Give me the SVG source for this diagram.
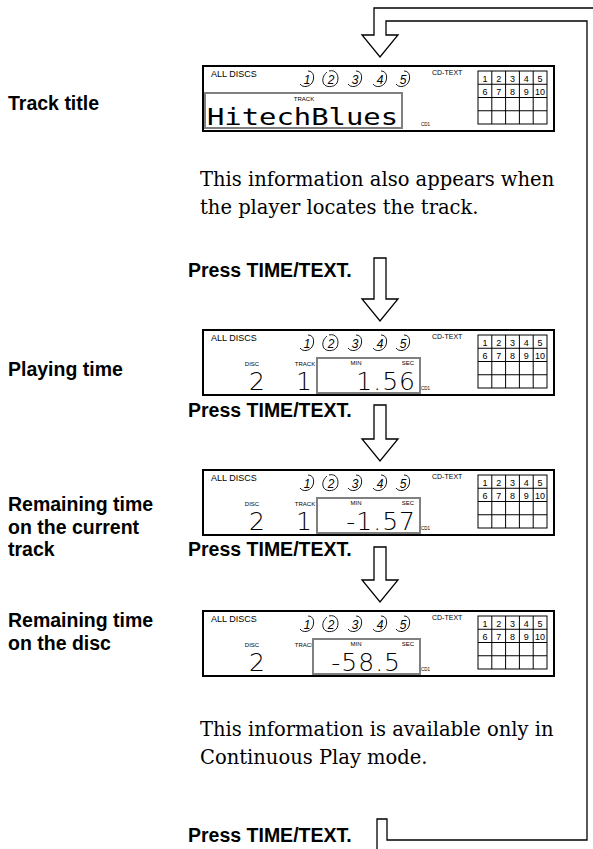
<svg xmlns="http://www.w3.org/2000/svg" width="593" height="849" viewBox="0 0 593 849">
<style>
.bg{fill:#fff}
.disp{fill:#fff;stroke:#000;stroke-width:2}
.gbox{fill:#fff;stroke:#808080;stroke-width:2}
.grid{fill:none;stroke:#000;stroke-width:1}
.sm{font-family:"Liberation Sans",Arial,sans-serif;fill:#000}
.lbl{font-family:"Liberation Sans",Arial,sans-serif;font-size:6px;fill:#000;text-anchor:middle}
.gn{font-family:"Liberation Sans",Arial,sans-serif;font-size:9px;fill:#000;text-anchor:middle}
.dn{font-family:"Liberation Sans",Arial,sans-serif;font-size:12px;font-style:italic;fill:#000;text-anchor:middle}
.arc{fill:none;stroke:#000;stroke-width:0.9}
.big{font-family:"DejaVu Sans","DejaVu Sans Mono",sans-serif;font-weight:200;font-size:25px;fill:#000}
.mono{font-family:"DejaVu Sans Mono",monospace;font-size:23px;fill:#000}
.head{font-family:"Liberation Sans",Arial,sans-serif;font-weight:bold;font-size:19.5px;fill:#000}
.para{font-family:"DejaVu Serif",serif;font-size:19.5px;fill:#000}
.arrow{fill:none;stroke:#000;stroke-width:1.3}
</style>
<defs>
<g id="discs">
<text class="sm" x="211" y="11" font-size="9">ALL DISCS</text>
<text class="sm" x="432" y="9" font-size="7">CD-TEXT</text>
<g transform="translate(307,13)"><text class="dn" x="0" y="4.5">1</text><path class="arc" d="M1,-8 C7,-8 8,-1 5,4 C2,8 -4,9 -7,5"/></g>
<g transform="translate(331,13)"><text class="dn" x="0" y="4.5">2</text><path class="arc" d="M-2,-8 C5,-10 9,-3 6,4 C3,9 -7,9 -8,3 C-9,-2 -6,-5 -4,-7"/></g>
<g transform="translate(355,13)"><text class="dn" x="0" y="4.5">3</text><path class="arc" d="M1,-8 C7,-8 8,-1 5,4 C2,8 -4,9 -7,5"/></g>
<g transform="translate(380,13)"><text class="dn" x="0" y="4.5">4</text><path class="arc" d="M1,-8 C7,-8 8,-1 5,4 C2,8 -4,9 -7,5"/></g>
<g transform="translate(403,13)"><text class="dn" x="0" y="4.5">5</text><path class="arc" d="M1,-8 C7,-8 8,-1 5,4 C2,8 -4,9 -7,5"/></g>
<rect class="grid" x="478" y="5" width="69" height="53"/>
<path class="grid" d="M491.8,5V58M505.6,5V58M519.4,5V58M533.2,5V58M478,18.25H547M478,31.5H547M478,44.75H547"/>
<text class="gn" x="484.9" y="15.5">1</text><text class="gn" x="498.7" y="15.5">2</text><text class="gn" x="512.5" y="15.5">3</text><text class="gn" x="526.3" y="15.5">4</text><text class="gn" x="540.1" y="15.5">5</text>
<text class="gn" x="484.9" y="28.5">6</text><text class="gn" x="498.7" y="28.5">7</text><text class="gn" x="512.5" y="28.5">8</text><text class="gn" x="526.3" y="28.5">9</text><text class="gn" x="540.1" y="28.5">10</text>
<text class="sm" x="421" y="59.5" font-size="6" textLength="9" lengthAdjust="spacingAndGlyphs">CD1</text>
</g>
</defs>
<rect class="bg" x="0" y="0" width="593" height="849"/>

<g id="labels">
<text class="head" x="8" y="110">Track title</text>
<text class="head" x="8" y="376">Playing time</text>
<text class="head" x="8" y="511">Remaining time</text>
<text class="head" x="8" y="533.5">on the current</text>
<text class="head" x="8" y="556">track</text>
<text class="head" x="8" y="627">Remaining time</text>
<text class="head" x="8" y="649.5">on the disc</text>
</g>

<g id="display1">
<rect class="disp" x="203" y="66" width="351" height="65"/>
<g transform="translate(0,66)"><use href="#discs"/></g>
<rect class="gbox" x="205" y="93" width="197" height="35"/>
<text class="lbl" x="304" y="101">TRACK</text>
<text class="mono" x="207" y="125" textLength="191" lengthAdjust="spacingAndGlyphs">HitechBlues</text>
</g>

<g id="note1">
<text class="para" x="200" y="186">This information also appears when</text>
<text class="para" x="200" y="214">the player locates the track.</text>
</g>

<g id="display2">
<rect class="disp" x="203" y="330" width="351" height="65"/>
<g transform="translate(0,330)"><use href="#discs"/></g>
<text class="lbl" x="252" y="366">DISC</text>
<text class="big" x="257" y="390" text-anchor="middle">2</text>
<text class="lbl" x="305" y="366">TRACK</text>
<text class="big" x="304" y="390" text-anchor="middle">1</text>
<rect class="gbox" x="317" y="358" width="103" height="35"/>
<text class="lbl" x="356" y="365">MIN</text>
<text class="lbl" x="408" y="365">SEC</text>
<text class="big" x="416" y="390" text-anchor="end" letter-spacing="1">1.56</text>
</g>

<g id="display3">
<rect class="disp" x="203" y="470" width="351" height="65"/>
<g transform="translate(0,470)"><use href="#discs"/></g>
<text class="lbl" x="252" y="506">DISC</text>
<text class="big" x="257" y="530" text-anchor="middle">2</text>
<text class="lbl" x="305" y="506">TRACK</text>
<text class="big" x="304" y="530" text-anchor="middle">1</text>
<rect class="gbox" x="317" y="498" width="103" height="35"/>
<text class="lbl" x="356" y="505">MIN</text>
<text class="lbl" x="408" y="505">SEC</text>
<text class="big" x="416" y="530" text-anchor="end" letter-spacing="1">-1.57</text>
</g>

<g id="display4">
<rect class="disp" x="203" y="611" width="351" height="65"/>
<g transform="translate(0,611)"><use href="#discs"/></g>
<text class="lbl" x="252" y="647">DISC</text>
<text class="big" x="257" y="671" text-anchor="middle">2</text>
<text class="lbl" x="305" y="647">TRACK</text>
<rect class="gbox" x="313" y="639" width="107" height="35"/>
<text class="lbl" x="356" y="646">MIN</text>
<text class="lbl" x="408" y="646">SEC</text>
<text class="big" x="401" y="671" text-anchor="end" letter-spacing="1">-58.5</text>
</g>

<g id="note2">
<text class="para" x="200" y="736">This information is available only in</text>
<text class="para" x="200" y="764">Continuous Play mode.</text>
</g>

<g id="press">
<text class="head" x="188" y="277">Press TIME/TEXT.</text>
<text class="head" x="188" y="417">Press TIME/TEXT.</text>
<text class="head" x="188" y="556">Press TIME/TEXT.</text>
<text class="head" x="188" y="842">Press TIME/TEXT.</text>
</g>

<g id="connectors">
<path class="arrow" d="M600,8 H374 V35 H362 L380,57 L398,35 H386 V21 H587 V840 H387 V819 H377 V852"/>
<path class="arrow" d="M374,258 V299 H362 L380,321 L398,299 H386 V258 Z"/>
<path class="arrow" d="M374,405 V439 H362 L380,461 L398,439 H386 V405 Z"/>
<path class="arrow" d="M374,547 V580 H362 L380,602 L398,580 H386 V547 Z"/>
</g>
</svg>
